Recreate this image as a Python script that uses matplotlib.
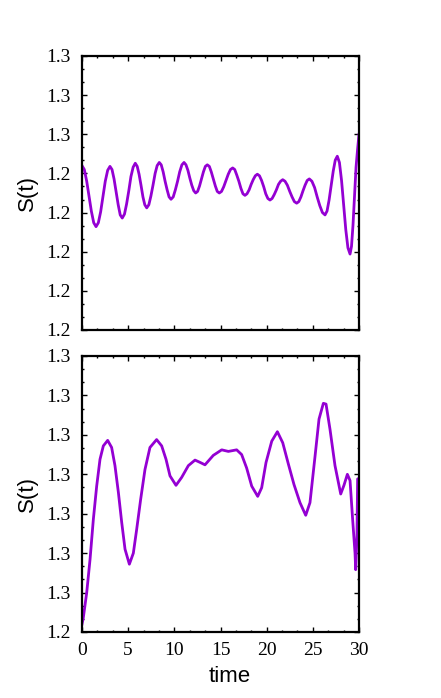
import matplotlib
matplotlib.use('Agg')
from matplotlib import pyplot as plt
from matplotlib.ticker import AutoMinorLocator

# top panel: S(t), one row per half oscillation
top_t = [0.0, 0.25, 0.51, 0.76, 1.01, 1.27, 1.52,
         1.77, 2.02, 2.28, 2.52, 2.78, 3.03,
         3.25, 3.47, 3.70, 3.92, 4.14, 4.36,
         4.60, 4.83, 5.07, 5.30, 5.54, 5.77,
         5.98, 6.18, 6.39, 6.60, 6.80, 7.01,
         7.24, 7.46, 7.69, 7.92, 8.14, 8.37,
         8.58, 8.79, 9.00, 9.22, 9.43, 9.64,
         9.88, 10.11, 10.35, 10.58, 10.82, 11.05,
         11.26, 11.47, 11.68, 11.89, 12.10, 12.31,
         12.52, 12.73, 12.94, 13.15, 13.36, 13.57,
         13.79, 14.00, 14.22, 14.44, 14.65, 14.87,
         15.11, 15.35, 15.60, 15.84, 16.08, 16.32,
         16.54, 16.76, 16.99, 17.21, 17.43, 17.65,
         17.87, 18.10, 18.32, 18.54, 18.77, 18.99,
         19.22, 19.45, 19.68, 19.90, 20.13, 20.36,
         20.59, 20.82, 21.05, 21.28, 21.51, 21.74,
         21.99, 22.24, 22.50, 22.75, 23.00, 23.25,
         23.48, 23.71, 23.94, 24.16, 24.39, 24.62,
         24.90, 25.19, 25.47, 25.75, 26.04, 26.32,
         26.54, 26.76, 26.99, 27.21, 27.43, 27.65,
         27.88, 28.11, 28.34, 28.57, 28.80, 29.03,
         29.19, 29.35, 29.52, 29.68, 29.84, 30.0]
top_s = [1.2560, 1.2555, 1.2540, 1.2521, 1.2502, 1.2487, 1.2482,
         1.2487, 1.2501, 1.2521, 1.2540, 1.2554, 1.2559,
         1.2555, 1.2543, 1.2526, 1.2510, 1.2497, 1.2493,
         1.2498, 1.2511, 1.2528, 1.2546, 1.2558, 1.2563,
         1.2559, 1.2549, 1.2535, 1.2520, 1.2510, 1.2506,
         1.2510, 1.2521, 1.2535, 1.2550, 1.2560, 1.2564,
         1.2561, 1.2552, 1.2540, 1.2529, 1.2520, 1.2517,
         1.2520, 1.2529, 1.2540, 1.2552, 1.2561, 1.2564,
         1.2561, 1.2554, 1.2544, 1.2535, 1.2528, 1.2525,
         1.2527, 1.2534, 1.2543, 1.2552, 1.2559, 1.2561,
         1.2559, 1.2552, 1.2543, 1.2534, 1.2527, 1.2525,
         1.2527, 1.2533, 1.2541, 1.2549, 1.2555, 1.2557,
         1.2555, 1.2548, 1.2540, 1.2531, 1.2524, 1.2522,
         1.2524, 1.2529, 1.2536, 1.2542, 1.2547, 1.2549,
         1.2547, 1.2541, 1.2533, 1.2524, 1.2518, 1.2516,
         1.2518, 1.2523, 1.2529, 1.2536, 1.2540, 1.2542,
         1.2540, 1.2535, 1.2527, 1.2520, 1.2514, 1.2512,
         1.2514, 1.2520, 1.2528, 1.2535, 1.2541, 1.2543,
         1.2540, 1.2532, 1.2520, 1.2509, 1.2500, 1.2497,
         1.2502, 1.2516, 1.2535, 1.2553, 1.2567, 1.2572,
         1.2564, 1.2541, 1.2510, 1.2478, 1.2455, 1.2447,
         1.2457, 1.2484, 1.2521, 1.2558, 1.2580, 1.2600]

# bottom panel: S(t)
bot_t = [0.0, 0.14, 0.51, 0.87, 1.23, 1.59, 1.95, 2.31, 2.78, 3.21, 3.57, 3.94,
         4.30, 4.66, 5.13, 5.56, 5.92, 6.35, 6.82, 7.36, 8.08, 8.63, 9.10, 9.53,
         10.18, 10.79, 11.52, 12.24, 12.80, 13.32, 14.22, 15.13, 15.85, 16.75,
         17.29, 17.83, 18.38, 19.03, 19.46, 19.93, 20.55, 21.16, 21.74, 22.35,
         22.96, 23.61, 24.23, 24.69, 25.24, 25.67, 26.14, 26.43, 26.86, 27.40,
         28.02, 28.37, 28.74, 29.03, 29.31, 29.57, 29.64, 29.78, 29.85, 30.0]
bot_s = [1.2510, 1.2518, 1.2550, 1.2592, 1.2643, 1.2685, 1.2719, 1.2736, 1.2743,
         1.2734, 1.2711, 1.2677, 1.2639, 1.2605, 1.2586, 1.2600, 1.2630, 1.2668,
         1.2706, 1.2734, 1.2744, 1.2736, 1.2719, 1.2698, 1.2686, 1.2696, 1.2711,
         1.2718, 1.2715, 1.2712, 1.2724, 1.2731, 1.2729, 1.2731, 1.2725, 1.2708,
         1.2685, 1.2672, 1.2683, 1.2715, 1.2742, 1.2754, 1.2740, 1.2713, 1.2687,
         1.2664, 1.2648, 1.2664, 1.2723, 1.2770, 1.2790, 1.2789, 1.2757, 1.2711,
         1.2675, 1.2686, 1.2700, 1.2692, 1.2643, 1.2600, 1.2579, 1.2622, 1.2694,
         1.2695]

# ticks (labels are rounded to one decimal, as in the original)
top_yticks = [1.235, 1.24, 1.245, 1.25, 1.255, 1.26, 1.265, 1.27]
top_ylabels = ['1.2', '1.2', '1.2', '1.2', '1.2', '1.3', '1.3', '1.3']
bot_yticks = [1.25, 1.255, 1.26, 1.265, 1.27, 1.275, 1.28, 1.285]
bot_ylabels = ['1.2', '1.3', '1.3', '1.3', '1.3', '1.3', '1.3', '1.3']
xticks = [0, 5, 10, 15, 20, 25, 30]

W, H = 441, 698
fig = plt.figure(figsize=(W / 100, H / 100), dpi=100)

ax1 = fig.add_axes([82 / W, 1 - 330 / H, 277 / W, 274 / H])
ax2 = fig.add_axes([82 / W, 1 - 632 / H, 277 / W, 276 / H])

color = '#9400d3'
ax1.plot(top_t, top_s, color=color, lw=2, solid_joinstyle='round')
ax2.plot(bot_t, bot_s, color=color, lw=2, solid_joinstyle='round')

for ax, yt, yl, lims in [(ax1, top_yticks, top_ylabels, (1.235, 1.27)),
                         (ax2, bot_yticks, bot_ylabels, (1.25, 1.285))]:
    ax.set_xlim(0, 30)
    ax.set_ylim(*lims)
    ax.set_xticks(xticks)
    ax.set_yticks(yt)
    ax.set_yticklabels(yl, family='Liberation Serif', fontsize=14)
    ax.xaxis.set_minor_locator(AutoMinorLocator(3))
    ax.yaxis.set_minor_locator(AutoMinorLocator(3))
    ax.tick_params(which='both', direction='in', top=True, right=True, width=1)
    ax.tick_params(which='major', length=3.5)
    ax.tick_params(which='minor', length=1.7)
    ax.tick_params(axis='y', pad=8)
    ax.tick_params(axis='x', pad=7)
    for sp in ax.spines.values():
        sp.set_linewidth(1.6)
    ax.set_ylabel('S(t)', family='Liberation Sans', fontsize=16)
    ax.yaxis.set_label_coords(-0.159, 0.5)

ax1.set_xticklabels([])
ax2.set_xticklabels([str(x) for x in xticks], family='Liberation Serif', fontsize=14)
fig.text(230 / W, 1 - 676 / H, 'time', family='Liberation Sans', fontsize=16,
         ha='center', va='center')

fig.savefig('out.png', dpi=100)
